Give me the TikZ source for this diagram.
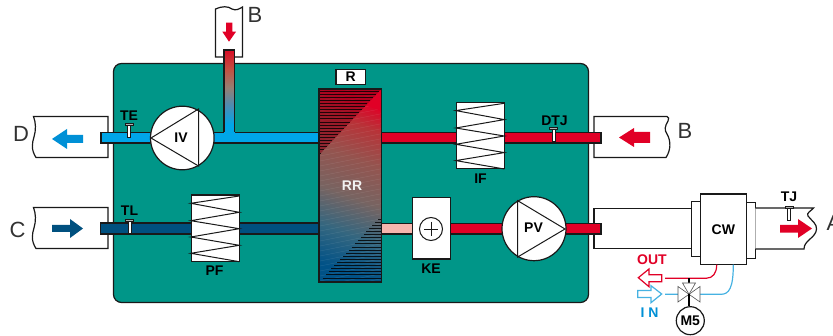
\documentclass[tikz,border=0pt]{standalone}
\usepackage{fontspec}
\setmainfont{Liberation Sans}
\definecolor{panel}{RGB}{0,150,136}
\definecolor{hotred}{RGB}{225,0,38}
\definecolor{coldblue}{RGB}{0,166,232}
\definecolor{darkblue}{RGB}{0,80,127}
\definecolor{pinkpipe}{RGB}{246,182,174}
\definecolor{arrowblue}{RGB}{0,144,214}
\definecolor{linkblue}{RGB}{70,178,226}
\definecolor{inkk}{RGB}{25,25,25}
\definecolor{lettergray}{RGB}{50,50,50}
\pgfdeclareverticalshading{rrgrad}{100bp}{
 rgb(0bp)=(0,0.32,0.53);
 rgb(25bp)=(0,0.32,0.53);
 rgb(36bp)=(0.2,0.40,0.50);
 rgb(47bp)=(0.47,0.39,0.38);
 rgb(58bp)=(0.58,0.33,0.31);
 rgb(68bp)=(0.72,0.20,0.22);
 rgb(75bp)=(0.88,0,0.15);
 rgb(100bp)=(0.88,0,0.15)}
\pgfdeclareverticalshading{riser}{100bp}{
 rgb(0bp)=(0,0.65,0.91);
 rgb(25bp)=(0,0.65,0.91);
 rgb(38bp)=(0.30,0.55,0.70);
 rgb(50bp)=(0.58,0.50,0.45);
 rgb(62bp)=(0.76,0.32,0.26);
 rgb(75bp)=(0.85,0.05,0.15);
 rgb(100bp)=(0.85,0.05,0.15)}
\tikzset{
 ol/.style={draw=inkk,line width=1.2pt},
 pipe/.style={ol,line join=miter},
 duct/.style={ol,fill=white},
 lab/.style={font=\bfseries\fontsize{14}{14}\selectfont,text=black,inner sep=0pt},
 biglab/.style={font=\fontsize{22}{22}\selectfont,text=lettergray,inner sep=0pt},
 comp/.style={ol,fill=white},
 hatch/.style={black,opacity=.8,line width=.9pt},
 valve/.style={draw=inkk!75,fill=white,line width=.6pt},
}
\newcommand{\zigzag}[2]{%
 \draw[comp] (#1,#2) rectangle ++(47.5,66.5);
 \draw[inkk,line width=1pt] (#1+47.5,#2+1) -- ++(-48.5,7.3) -- ++(48.5,9) -- ++(-48.5,8.4) -- ++(48.5,8) -- ++(-48.5,8.3) -- ++(48.5,8.3) -- ++(-48.5,8) -- ++(48.5,8.4);
}
\newcommand{\sensor}[2]{%
 \draw[inkk,fill=white,line width=.6pt] (#1-1.3,#2+1) rectangle (#1+1.3,#2+13);
 \draw[inkk,fill=gray!60,line width=.6pt] (#1-4,#2-1) rectangle (#1+4,#2+1.5);
}
\begin{document}
\begin{tikzpicture}[x=1pt,y=-1pt]
\useasboundingbox (0,0) rectangle (833,336);
\clip (0,0) rectangle (833,336);
% ducts behind the panel
\draw[duct] (594,116.5) -- (667,116.5) .. controls (669,117) and (669,119) .. (668,121) .. controls (665,126) and (664,130) .. (667,134) .. controls (671,141) and (671,150) .. (666,157.5) -- (594,157.5) -- cycle;
\draw[duct] (594,208.2) -- (692,208.2) -- (692,248.8) -- (594,248.8) -- cycle;
\draw[duct] (33.5,116.5) -- (108,116.5) -- (108,157.5) -- (36,157.5) .. controls (31,150) and (32,143) .. (34,137) .. controls (36,130) and (36,123) .. (33.5,116.5) -- cycle;
\draw[duct] (33.5,207.5) -- (108,207.5) -- (108,248.5) -- (36,248.5) .. controls (31,241) and (32,234) .. (34,228) .. controls (36,221) and (36,214) .. (33.5,207.5) -- cycle;
\draw[duct] (215.5,9) .. controls (222,6) and (228,6) .. (232,9) .. controls (236,11) and (239,9) .. (242.5,7) -- (242.5,57) -- (215.5,57) -- cycle;
% panel
\draw[ol,fill=panel,rounded corners=8pt] (113.5,63.5) rectangle (588.5,302.5);
% pipes
\draw[pipe,fill=coldblue] (101,132.5) rectangle (320,143);
\shade[shading=riser] (224,50) rectangle (234.5,125);
\fill[coldblue] (224,124.5) rectangle (234.5,142);
\draw[ol] (224,132.5) -- (224,50) -- (234.5,50) -- (234.5,132.5);
\draw[pipe,fill=hotred] (381,132.5) rectangle (601,143);
\draw[pipe,fill=darkblue] (100.5,223) rectangle (320,234);
\draw[pipe,fill=pinkpipe] (381,223.5) rectangle (413,234);
\draw[pipe,fill=hotred] (450,223.5) rectangle (601,234);
% recuperator
\begin{scope}
 \clip (319,89) rectangle (381.5,282);
 \shade[shading=rrgrad,shading angle=-20] (310,86) rectangle (391,285);
 \foreach \i in {0,...,45}{
   \draw[white,opacity=.10,line width=.4pt] (300,90+\i*5) -- (400,70+\i*5);
 }
 \fill[hotred] (381.5,90) -- (365,105) -- (381.5,111) -- cycle;
 % upper-left hatched triangle
 \fill[hotred!60!black,opacity=.55] (319,89) -- (381.5,89) -- (319,155) -- cycle;
 \foreach \i in {0,...,20}{
   \pgfmathsetmacro{\yy}{91+\i*3.1}
   \pgfmathsetmacro{\xx}{381-(\yy-89)*0.94}
   \draw[hatch] (319,\yy) -- (\xx,\yy);
 }
 % lower-right hatched triangle
 \foreach \i in {0,...,21}{
   \pgfmathsetmacro{\yy}{216+\i*3.1}
   \pgfmathsetmacro{\xx}{381-(\yy-216)*0.94}
   \draw[hatch] (\xx,\yy) -- (381,\yy);
 }
\end{scope}
\draw[inkk,line width=1.3pt] (319,89) rectangle (381.5,282);
\node[lab,text=white!90!gray] (rrt) at (352,186) {RR};
\node[comp,minimum width=29.5pt,minimum height=15.5pt,inner sep=0pt,lab] (r) at (350.8,77) {R};
% fan IV
\draw[comp] (182.3,138) circle (31.8);
\draw[inkk,line width=1pt] (151,138) -- (198.5,109) -- (198.5,166) -- cycle;
\node[lab] (iv) at (181,137.5) {IV};
% filters
\zigzag{191.8}{195}
\node[lab] (pf) at (214.5,271) {PF};
\zigzag{456.8}{102.3}
\node[lab] (if) at (480.5,178.5) {IF};
% heater
\draw[comp] (412.3,197.7) rectangle (450.3,259);
\draw[inkk,line width=1pt] (431,229) circle (11.5);
\draw[inkk,line width=.7pt] (424,229) -- (438,229) (431,222) -- (431,236);
\node[lab] (ke) at (431,269) {KE};
% fan PV
\draw[comp] (534,228.7) circle (32);
\draw[inkk,line width=1pt] (517.7,200.7) -- (565,229) -- (517.7,257) -- cycle;
\node[lab] (pv) at (533.5,228) {PV};
% sensors
\sensor{129}{124}\node[lab] (te) at (129,115.5) {TE};
\sensor{129.5}{220}\node[lab] (tl) at (129.5,211) {TL};
\sensor{553.5}{128}\node[lab] (dtj) at (554.5,120.5) {DTJ};
% cooler
\draw[comp] (691.7,201.3) rectangle (700.3,256.7);
\draw[comp] (746.3,202.7) rectangle (755.3,258.3);
\fill[white] (755.3,208) -- (813.5,208) .. controls (811,211) and (806,213) .. (808,216) .. controls (812,221) and (817,224) .. (816.5,229) .. controls (816,238) and (804,240) .. (804,249) -- (755.3,249) -- cycle;
\draw[ol] (755.3,208) -- (813.5,208) .. controls (811,211) and (806,213) .. (808,216) .. controls (812,221) and (817,224) .. (816.5,229) .. controls (816,238) and (804,240) .. (804,249) -- (755.3,249);
\draw[comp] (700.3,194) rectangle (746.3,264.7);
\node[lab] (cw) at (723.3,229.5) {CW};
\sensor{789}{207}\node[lab] (tj) at (789,196.5) {TJ};
% flow arrows
\fill[arrowblue] (83,135) -- (67,135) -- (67,129) -- (52,139) -- (67,149) -- (67,143) -- (83,143) -- cycle;
\fill[darkblue] (52,225) -- (70,225) -- (70,219) -- (83,228.5) -- (70,238) -- (70,232) -- (52,232) -- cycle;
\fill[hotred] (226,22.7) -- (232.3,22.7) -- (232.3,31.7) -- (236,31.7) -- (229,41.7) -- (222.3,31.7) -- (226,31.7) -- cycle;
\fill[hotred] (650,132) -- (634,132) -- (634,128) -- (619,137.5) -- (634,147) -- (634,143) -- (650,143) -- cycle;
\fill[hotred] (780,225) -- (798,225) -- (798,219) -- (812,228.5) -- (798,238) -- (798,232.7) -- (780,232.7) -- cycle;
% valve group
\coordinate (out) at (665,278.3);
\coordinate (in) at (665,294.3);
\coordinate (vc) at (689,294.3);
\coordinate (vt) at (689,278.3);
\node[comp,circle,minimum size=28pt,inner sep=0pt,lab] (m5) at (690.3,320.7) {M5};
\draw[hotred,line width=1.2pt] (out) -- (706,278.3) .. controls (713,278.3) and (716.7,273) .. (716.7,264.7);
\draw[linkblue,line width=1.2pt] (in) -- (678,294.3) (700,294.3) -- (721,294.3) .. controls (729,294.3) and (733.3,288) .. (733.3,264.7);
\draw[black,line width=1.6pt] (vt) -- (vc);
\draw[valve] (678,286.5) -- (678,302) -- (689,294.3) -- cycle;
\draw[valve] (700,286.5) -- (700,302) -- (689,294.3) -- cycle;
\draw[valve] (682.5,283) -- (695.5,283) -- (689,294.3) -- cycle;
\draw[black,line width=2pt] (vc) -- (vc |- m5.north);
\draw[hotred,fill=white,line width=1.2pt] (661.7,274.7) -- (649,274.7) -- (649,269) -- (638.3,277.7) -- (649,286.7) -- (649,281.7) -- (661.7,281.7) -- cycle;
\draw[linkblue,fill=white,line width=1.2pt] (637.7,290.5) -- (651,290.5) -- (651,285.7) -- (661.7,294) -- (651,302.7) -- (651,297.5) -- (637.7,297.5) -- cycle;
\node[lab,text=hotred] (outl) at (652,259.5) {OUT};
\node[lab,text=arrowblue] (inl) at (649.5,312.7) {I N};
% big letters
\node[biglab] (bt) at (255,15) {B};
\node[biglab] (dl) at (21,133.5) {D};
\node[biglab] (cl) at (17.5,230) {C};
\node[biglab] (br) at (685,131) {B};
\node[biglab,anchor=west] (al) at (826.5,223) {A};
\end{tikzpicture}
\end{document}
